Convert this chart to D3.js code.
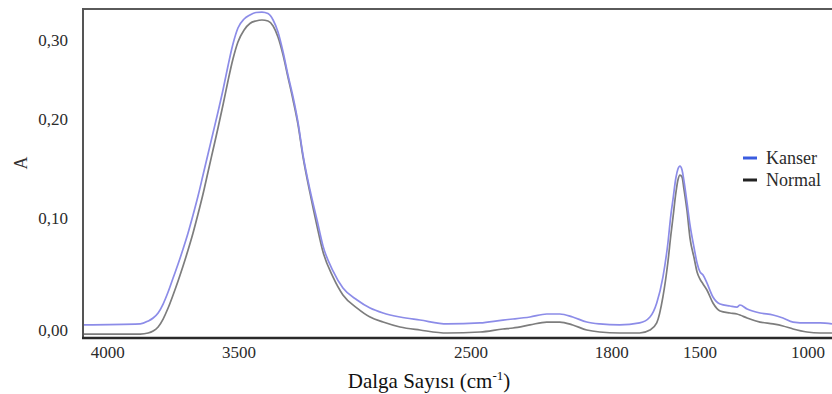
<!DOCTYPE html>
<html>
<head>
<meta charset="utf-8">
<script src="https://cdn.jsdelivr.net/npm/d3@7"></script>
<style>
  html, body { margin: 0; padding: 0; background: #fff; }
  svg { display: block; }
  svg text { font-family: "Liberation Serif", "DejaVu Serif", serif; }
</style>
</head>
<body>
<div id="chart"></div>
<script>
// ── Data ──
const wavenumbers = [
  4093, 3876, 3846, 3827, 3808, 3789, 3770, 3751, 3732, 3713, 3694, 3675, 3656, 3637, 3618, 3599, 3580, 3561, 3542, 3523, 3504,
  3478, 3453, 3427, 3401, 3375, 3353, 3332, 3310, 3289, 3267, 3246, 3224, 3194, 3164, 3138, 3095, 3052, 2991, 2935, 2879, 2806, 2720, 2603,
  2455, 2341, 2291, 2207, 2123, 2058, 1994, 1924, 1860,
  1773, 1705, 1670, 1647, 1626, 1609, 1599, 1592, 1582, 1575, 1568, 1561, 1555, 1544, 1534, 1520, 1510,
  1500, 1486, 1468, 1440, 1407, 1361, 1329, 1315, 1282, 1222, 1162, 1116, 1069, 1005, 944, 889
];

const kanser = [
  0.0045, 0.0054, 0.0080, 0.0107, 0.0152, 0.0232, 0.0339, 0.0464, 0.0589, 0.0723, 0.0866, 0.1030, 0.1222, 0.1434, 0.1646, 0.1859, 0.2089, 0.2367, 0.2671, 0.2949, 0.3152,
  0.3266, 0.3316, 0.3348, 0.3354, 0.3335, 0.3253, 0.3101, 0.2848, 0.2557, 0.2278, 0.1970, 0.1636, 0.1283, 0.0984, 0.0751, 0.0528, 0.0375, 0.0268, 0.0196, 0.0152, 0.0116, 0.0089, 0.0054,
  0.0063, 0.0089, 0.0098, 0.0116, 0.0143, 0.0143, 0.0116, 0.0071, 0.0054,
  0.0045, 0.0063, 0.0116, 0.0241, 0.0473, 0.0777, 0.1030, 0.1182, 0.1404, 0.1495, 0.1525, 0.1485, 0.1384, 0.1152, 0.0938, 0.0732, 0.0598,
  0.0518, 0.0491, 0.0420, 0.0295, 0.0232, 0.0214, 0.0205, 0.0223, 0.0188, 0.0152, 0.0134, 0.0107, 0.0071, 0.0063, 0.0063, 0.0054
];

const normal = [
  -0.0036, -0.0036, -0.0027, -0.0009, 0.0027, 0.0098, 0.0196, 0.0313, 0.0438, 0.0571, 0.0714, 0.0866, 0.1040, 0.1242, 0.1465, 0.1687, 0.1909, 0.2177, 0.2481, 0.2759, 0.2975,
  0.3127, 0.3209, 0.3241, 0.3253, 0.3241, 0.3177, 0.3038, 0.2810, 0.2532, 0.2241, 0.1949, 0.1616, 0.1253, 0.0930, 0.0698, 0.0474, 0.0313, 0.0196, 0.0116, 0.0071, 0.0027, 0.0000, -0.0027,
  -0.0018, 0.0009, 0.0018, 0.0045, 0.0071, 0.0071, 0.0045, 0.0000, -0.0018,
  -0.0027, -0.0027, 0.0000, 0.0063, 0.0295, 0.0607, 0.0848, 0.1000, 0.1253, 0.1384, 0.1434, 0.1414, 0.1303, 0.1071, 0.0821, 0.0643, 0.0518,
  0.0455, 0.0411, 0.0357, 0.0241, 0.0170, 0.0152, 0.0143, 0.0134, 0.0107, 0.0071, 0.0054, 0.0036, 0.0009, -0.0018, -0.0027, -0.0027
];

// axis ticks as printed on the figure (spacing on the original is uneven)
const xTicks = [4000, 3500, 2500, 1800, 1500, 1000];
const yTicks = [0, 0.1, 0.2, 0.3];
const seriesNames = ["Kanser", "Normal"];

// ── Layout ──
const W = 832, H = 394;
const PLOT = { left: 83, right: 832, top: 9, bottom: 338 };
const SERIF = "'Liberation Serif', 'DejaVu Serif', serif";

// piecewise scales reproduce the original's uneven tick placement
const xScale = d3.scaleLinear()
  .domain(xTicks)
  .range([107.7, 239, 471, 611.7, 700, 808]);

const yScale = d3.scaleLinear()
  .domain(yTicks)
  .range([330, 218, 119, 40]);

const svg = d3.select("#chart").append("svg")
  .attr("width", W)
  .attr("height", H)
  .attr("font-family", SERIF);

svg.append("defs").append("clipPath").attr("id", "plot-clip")
  .append("rect")
  .attr("x", PLOT.left).attr("y", PLOT.top)
  .attr("width", PLOT.right - PLOT.left)
  .attr("height", PLOT.bottom - PLOT.top);

// ── Spectra ──
const series = [
  { name: seriesNames[1], values: normal, color: "#7d7d7d" },
  { name: seriesNames[0], values: kanser, color: "#8c8ce8" }
];

const lineGen = d3.line()
  .x(d => xScale(d.w))
  .y(d => yScale(d.a))
  .curve(d3.curveMonotoneX);

const g = svg.append("g").attr("clip-path", "url(#plot-clip)");
series.forEach(s => {
  const pts = wavenumbers.map((w, i) => ({ w, a: s.values[i] }));
  g.append("path")
    .datum(pts)
    .attr("fill", "none")
    .attr("stroke", s.color)
    .attr("stroke-width", 1.7)
    .attr("stroke-linejoin", "round")
    .attr("d", lineGen);
});

// ── Frame ──
svg.append("line")
  .attr("x1", PLOT.left).attr("x2", PLOT.right)
  .attr("y1", PLOT.top).attr("y2", PLOT.top)
  .attr("stroke", "#5a5a5a").attr("stroke-width", 2);

svg.append("line")
  .attr("x1", PLOT.left).attr("x2", PLOT.left)
  .attr("y1", PLOT.top - 1).attr("y2", PLOT.bottom)
  .attr("stroke", "#555").attr("stroke-width", 2);

svg.append("line")
  .attr("x1", PLOT.left - 1).attr("x2", PLOT.right)
  .attr("y1", PLOT.bottom).attr("y2", PLOT.bottom)
  .attr("stroke", "#2a2a2a").attr("stroke-width", 2.5);

// ── Y tick labels ──
const fmtY = v => d3.format(".2f")(v).replace(".", ",");
yTicks.forEach(v => {
  svg.append("text")
    .attr("x", 68)
    .attr("y", yScale(v) + 6)
    .attr("text-anchor", "end")
    .attr("font-family", SERIF)
    .style("font-size", "17px")
    .style("fill", "#2b2b2b")
    .text(fmtY(v));
});

// ── X tick labels ──
xTicks.forEach(v => {
  svg.append("text")
    .attr("x", xScale(v))
    .attr("y", 358)
    .attr("text-anchor", "middle")
    .attr("font-family", SERIF)
    .style("font-size", "17px")
    .style("fill", "#2b2b2b")
    .text(v);
});

// ── Axis titles ──
const xTitle = svg.append("text")
  .attr("x", 429)
  .attr("y", 388)
  .attr("text-anchor", "middle")
  .attr("font-family", SERIF)
  .style("font-size", "21px")
  .style("fill", "#111");
xTitle.append("tspan").text("Dalga Sayısı (cm");
xTitle.append("tspan").attr("dy", -8).style("font-size", "13px").text("-1");
xTitle.append("tspan").attr("dy", 8).text(")");

svg.append("text")
  .attr("transform", "translate(27,163) rotate(-90)")
  .attr("text-anchor", "middle")
  .attr("font-family", SERIF)
  .style("font-size", "18px")
  .style("fill", "#333")
  .text("A");

// ── Legend ──
const legendItems = [
  { name: seriesNames[0], color: "#3a5ce0" },
  { name: seriesNames[1], color: "#222" }
];
legendItems.forEach((it, i) => {
  const y = 158 + i * 22;
  svg.append("line")
    .attr("x1", 743).attr("x2", 757)
    .attr("y1", y).attr("y2", y)
    .attr("stroke", it.color).attr("stroke-width", 3);
  svg.append("text")
    .attr("x", 766).attr("y", y + 6)
    .attr("font-family", SERIF)
    .style("font-size", "18px")
    .style("fill", "#2b2b2b")
    .text(it.name);
});
</script>
</body>
</html>
